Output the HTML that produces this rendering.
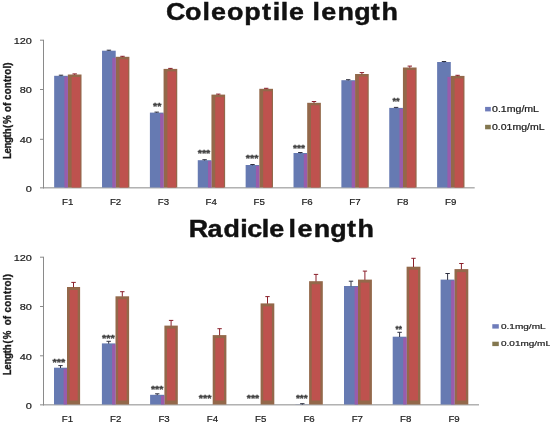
<!DOCTYPE html>
<html><head><meta charset="utf-8"><title>Coleoptile and radicle length</title>
<style>html,body{margin:0;padding:0;background:#fff}svg{display:block;font-family:"Liberation Sans", sans-serif;filter:blur(0.45px)}</style></head>
<body><svg width="550" height="423" viewBox="0 0 550 423">
<rect width="550" height="423" fill="#fff"/>
<line x1="43.5" y1="39.8" x2="43.5" y2="188.5" stroke="#8a8a8a" stroke-width="1"/>
<line x1="40" y1="187.85" x2="474.7" y2="187.85" stroke="#8a8a8a" stroke-width="1"/>
<text x="25.8" y="191.9" font-size="9.7" textLength="6.1" lengthAdjust="spacingAndGlyphs" fill="#1a1a1a" stroke="#1a1a1a" stroke-width="0.2">0</text>
<line x1="40" y1="139.3" x2="43.5" y2="139.3" stroke="#8a8a8a" stroke-width="1"/>
<text x="19.7" y="142.7" font-size="9.7" textLength="12.2" lengthAdjust="spacingAndGlyphs" fill="#1a1a1a" stroke="#1a1a1a" stroke-width="0.2">40</text>
<line x1="40" y1="89.5" x2="43.5" y2="89.5" stroke="#8a8a8a" stroke-width="1"/>
<text x="19.7" y="93.4" font-size="9.7" textLength="12.2" lengthAdjust="spacingAndGlyphs" fill="#1a1a1a" stroke="#1a1a1a" stroke-width="0.2">80</text>
<line x1="40" y1="40.2" x2="43.5" y2="40.2" stroke="#8a8a8a" stroke-width="1"/>
<text x="13.7" y="44.1" font-size="9.7" textLength="18.2" lengthAdjust="spacingAndGlyphs" fill="#1a1a1a" stroke="#1a1a1a" stroke-width="0.2">120</text>
<rect x="54.16" y="75.8" width="13.68" height="111.7" fill="#667ab2"/>
<rect x="67.83" y="74.5" width="13.68" height="113.0" fill="#93684a"/>
<rect x="71.63" y="77.0" width="8.68" height="110.5" fill="#be524e"/>
<rect x="64.43" y="76.8" width="3.4" height="110.7" fill="#9a5cab"/>
<path d="M61.0 75.2V76.1M58.8 75.2H63.2" stroke="#2e3040" stroke-width="1" fill="none"/>
<path d="M74.7 73.9V74.8M72.5 73.9H76.9" stroke="#8a1f2a" stroke-width="1" fill="none"/>
<text x="62.0" y="205.1" font-size="9.5" textLength="11.3" lengthAdjust="spacingAndGlyphs" fill="#1a1a1a" stroke="#1a1a1a" stroke-width="0.2">F1</text>
<rect x="102.03" y="50.7" width="13.68" height="136.8" fill="#667ab2"/>
<rect x="115.70" y="56.8" width="13.68" height="130.7" fill="#93684a"/>
<rect x="119.50" y="59.3" width="8.68" height="128.2" fill="#be524e"/>
<rect x="112.30" y="57.8" width="3.4" height="129.7" fill="#9a5cab"/>
<path d="M108.9 50.2V51.0M106.7 50.2H111.1" stroke="#2e3040" stroke-width="1" fill="none"/>
<path d="M122.5 56.3V57.1M120.3 56.3H124.7" stroke="#8a1f2a" stroke-width="1" fill="none"/>
<text x="109.9" y="205.1" font-size="9.5" textLength="11.3" lengthAdjust="spacingAndGlyphs" fill="#1a1a1a" stroke="#1a1a1a" stroke-width="0.2">F2</text>
<rect x="149.90" y="112.6" width="13.68" height="74.9" fill="#667ab2"/>
<rect x="163.57" y="68.9" width="13.68" height="118.6" fill="#93684a"/>
<rect x="167.38" y="71.4" width="8.68" height="116.1" fill="#be524e"/>
<rect x="160.17" y="113.6" width="3.4" height="73.9" fill="#9a5cab"/>
<path d="M156.7 112.1V112.9M154.5 112.1H158.9" stroke="#2e3040" stroke-width="1" fill="none"/>
<path d="M170.4 68.4V69.2M168.2 68.4H172.6" stroke="#8a1f2a" stroke-width="1" fill="none"/>
<text x="157.8" y="205.1" font-size="9.5" textLength="11.3" lengthAdjust="spacingAndGlyphs" fill="#1a1a1a" stroke="#1a1a1a" stroke-width="0.2">F3</text>
<rect x="197.77" y="160.2" width="13.68" height="27.3" fill="#667ab2"/>
<rect x="211.44" y="94.6" width="13.68" height="92.9" fill="#93684a"/>
<rect x="215.24" y="97.1" width="8.68" height="90.4" fill="#be524e"/>
<rect x="208.04" y="161.2" width="3.4" height="26.3" fill="#9a5cab"/>
<path d="M204.6 159.7V160.5M202.4 159.7H206.8" stroke="#2e3040" stroke-width="1" fill="none"/>
<path d="M218.3 94.1V94.9M216.1 94.1H220.5" stroke="#8a1f2a" stroke-width="1" fill="none"/>
<text x="205.6" y="205.1" font-size="9.5" textLength="11.3" lengthAdjust="spacingAndGlyphs" fill="#1a1a1a" stroke="#1a1a1a" stroke-width="0.2">F4</text>
<rect x="245.64" y="165.0" width="13.68" height="22.5" fill="#667ab2"/>
<rect x="259.31" y="88.8" width="13.68" height="98.7" fill="#93684a"/>
<rect x="263.12" y="91.3" width="8.68" height="96.2" fill="#be524e"/>
<rect x="255.91" y="166.0" width="3.4" height="21.5" fill="#9a5cab"/>
<path d="M252.5 164.5V165.3M250.3 164.5H254.7" stroke="#2e3040" stroke-width="1" fill="none"/>
<path d="M266.2 88.3V89.1M264.0 88.3H268.4" stroke="#8a1f2a" stroke-width="1" fill="none"/>
<text x="253.5" y="205.1" font-size="9.5" textLength="11.3" lengthAdjust="spacingAndGlyphs" fill="#1a1a1a" stroke="#1a1a1a" stroke-width="0.2">F5</text>
<rect x="293.51" y="153.0" width="13.68" height="34.5" fill="#667ab2"/>
<rect x="307.19" y="102.8" width="13.68" height="84.7" fill="#93684a"/>
<rect x="310.99" y="105.3" width="8.68" height="82.2" fill="#be524e"/>
<rect x="303.79" y="154.0" width="3.4" height="33.5" fill="#9a5cab"/>
<path d="M300.3 152.5V153.3M298.1 152.5H302.5" stroke="#2e3040" stroke-width="1" fill="none"/>
<path d="M314.0 101.5V103.1M311.8 101.5H316.2" stroke="#8a1f2a" stroke-width="1" fill="none"/>
<text x="301.4" y="205.1" font-size="9.5" textLength="11.3" lengthAdjust="spacingAndGlyphs" fill="#1a1a1a" stroke="#1a1a1a" stroke-width="0.2">F6</text>
<rect x="341.38" y="80.2" width="13.68" height="107.3" fill="#667ab2"/>
<rect x="355.06" y="74.0" width="13.68" height="113.5" fill="#93684a"/>
<rect x="358.86" y="76.5" width="8.68" height="111.0" fill="#be524e"/>
<rect x="351.66" y="81.2" width="3.4" height="106.3" fill="#9a5cab"/>
<path d="M348.2 79.7V80.5M346.0 79.7H350.4" stroke="#2e3040" stroke-width="1" fill="none"/>
<path d="M361.9 72.6V74.3M359.7 72.6H364.1" stroke="#8a1f2a" stroke-width="1" fill="none"/>
<text x="349.3" y="205.1" font-size="9.5" textLength="11.3" lengthAdjust="spacingAndGlyphs" fill="#1a1a1a" stroke="#1a1a1a" stroke-width="0.2">F7</text>
<rect x="389.25" y="107.9" width="13.68" height="79.6" fill="#667ab2"/>
<rect x="402.93" y="67.5" width="13.68" height="120.0" fill="#93684a"/>
<rect x="406.73" y="70.0" width="8.68" height="117.5" fill="#be524e"/>
<rect x="399.53" y="108.9" width="3.4" height="78.6" fill="#9a5cab"/>
<path d="M396.1 107.4V108.2M393.9 107.4H398.3" stroke="#2e3040" stroke-width="1" fill="none"/>
<path d="M409.8 66.1V67.8M407.6 66.1H412.0" stroke="#8a1f2a" stroke-width="1" fill="none"/>
<text x="397.1" y="205.1" font-size="9.5" textLength="11.3" lengthAdjust="spacingAndGlyphs" fill="#1a1a1a" stroke="#1a1a1a" stroke-width="0.2">F8</text>
<rect x="437.12" y="62.0" width="13.68" height="125.5" fill="#667ab2"/>
<rect x="450.80" y="75.9" width="13.68" height="111.6" fill="#93684a"/>
<rect x="454.60" y="78.4" width="8.68" height="109.1" fill="#be524e"/>
<rect x="447.40" y="76.9" width="3.4" height="110.6" fill="#9a5cab"/>
<path d="M444.0 61.5V62.3M441.8 61.5H446.2" stroke="#2e3040" stroke-width="1" fill="none"/>
<path d="M457.6 75.3V76.2M455.4 75.3H459.8" stroke="#8a1f2a" stroke-width="1" fill="none"/>
<text x="445.0" y="205.1" font-size="9.5" textLength="11.3" lengthAdjust="spacingAndGlyphs" fill="#1a1a1a" stroke="#1a1a1a" stroke-width="0.2">F9</text>
<text x="153.0" y="109.0" font-size="8.2" font-weight="bold" textLength="8.3" lengthAdjust="spacingAndGlyphs" fill="#3c3c3c" stroke="#3c3c3c" stroke-width="0.3">**</text>
<text x="197.7" y="155.7" font-size="8.2" font-weight="bold" textLength="12.6" lengthAdjust="spacingAndGlyphs" fill="#3c3c3c" stroke="#3c3c3c" stroke-width="0.3">***</text>
<text x="245.7" y="161.1" font-size="8.2" font-weight="bold" textLength="12.7" lengthAdjust="spacingAndGlyphs" fill="#3c3c3c" stroke="#3c3c3c" stroke-width="0.3">***</text>
<text x="293.0" y="150.9" font-size="8.2" font-weight="bold" textLength="12.0" lengthAdjust="spacingAndGlyphs" fill="#3c3c3c" stroke="#3c3c3c" stroke-width="0.3">***</text>
<text x="392.5" y="103.9" font-size="8.2" font-weight="bold" textLength="7.2" lengthAdjust="spacingAndGlyphs" fill="#3c3c3c" stroke="#3c3c3c" stroke-width="0.3">**</text>
<text transform="translate(0 20) scale(1.12 1)" x="148.22 165.17 180.87 188.36 202.80 218.00 234.00 243.60 250.60 258.13 273.48 278.95 286.93 301.38 316.24 331.14 340.58" y="0" font-size="24" font-weight="bold" fill="#111" stroke="#111" stroke-width="0.45">Coleoptile length</text>
<text transform="translate(11.3 158.4) rotate(-90) scale(0.92 1)" x="-0.65 5.36 10.83 16.84 22.85 26.12 32.17 33.07 37.33 49.09 50.34 56.93 61.59 63.59 69.68 76.37 83.06 86.71 90.97 97.65 100.70" y="0" font-size="10.6" font-weight="bold" fill="#1a1a1a" stroke="#1a1a1a" stroke-width="0.35">Length (% of control)</text>
<rect x="485.1" y="106.9" width="5.7" height="4.5" fill="#6e7cba"/>
<text x="492.0" y="111.8" font-size="8.3" textLength="47.0" lengthAdjust="spacingAndGlyphs" fill="#1a1a1a" stroke="#1a1a1a" stroke-width="0.2">0.1mg/mL</text>
<rect x="485.1" y="124.8" width="5.7" height="4.5" fill="#83774f"/>
<text x="492.0" y="129.6" font-size="8.3" textLength="52.6" lengthAdjust="spacingAndGlyphs" fill="#1a1a1a" stroke="#1a1a1a" stroke-width="0.2">0.01mg/mL</text>
<line x1="43.5" y1="256.8" x2="43.5" y2="405.5" stroke="#8a8a8a" stroke-width="1"/>
<line x1="40" y1="404.85" x2="479.0" y2="404.85" stroke="#8a8a8a" stroke-width="1"/>
<text x="25.8" y="408.9" font-size="9.7" textLength="6.1" lengthAdjust="spacingAndGlyphs" fill="#1a1a1a" stroke="#1a1a1a" stroke-width="0.2">0</text>
<line x1="40" y1="355.8" x2="43.5" y2="355.8" stroke="#8a8a8a" stroke-width="1"/>
<text x="19.7" y="359.6" font-size="9.7" textLength="12.2" lengthAdjust="spacingAndGlyphs" fill="#1a1a1a" stroke="#1a1a1a" stroke-width="0.2">40</text>
<line x1="40" y1="306.5" x2="43.5" y2="306.5" stroke="#8a8a8a" stroke-width="1"/>
<text x="19.7" y="310.4" font-size="9.7" textLength="12.2" lengthAdjust="spacingAndGlyphs" fill="#1a1a1a" stroke="#1a1a1a" stroke-width="0.2">80</text>
<line x1="40" y1="257.2" x2="43.5" y2="257.2" stroke="#8a8a8a" stroke-width="1"/>
<text x="13.7" y="261.1" font-size="9.7" textLength="18.2" lengthAdjust="spacingAndGlyphs" fill="#1a1a1a" stroke="#1a1a1a" stroke-width="0.2">120</text>
<rect x="54.00" y="367.7" width="13.00" height="36.8" fill="#667ab2"/>
<rect x="67.00" y="287.0" width="13.10" height="117.5" fill="#93684a"/>
<rect x="69.60" y="290.0" width="8.10" height="110.5" fill="#be524e"/>
<rect x="63.60" y="368.7" width="3.4" height="35.8" fill="#9a5cab"/>
<path d="M60.5 365.6V368.0M58.3 365.6H62.7" stroke="#2e3040" stroke-width="1" fill="none"/>
<path d="M73.5 282.4V287.3M71.3 282.4H75.8" stroke="#8a1f2a" stroke-width="1" fill="none"/>
<text x="61.8" y="422.1" font-size="9.5" textLength="11.3" lengthAdjust="spacingAndGlyphs" fill="#1a1a1a" stroke="#1a1a1a" stroke-width="0.2">F1</text>
<rect x="101.90" y="343.4" width="13.60" height="61.1" fill="#667ab2"/>
<rect x="115.50" y="296.3" width="13.60" height="108.2" fill="#93684a"/>
<rect x="118.10" y="299.3" width="8.60" height="101.2" fill="#be524e"/>
<rect x="112.10" y="344.4" width="3.4" height="60.1" fill="#9a5cab"/>
<path d="M108.7 341.3V343.7M106.5 341.3H110.9" stroke="#2e3040" stroke-width="1" fill="none"/>
<path d="M122.3 291.7V296.6M120.1 291.7H124.5" stroke="#8a1f2a" stroke-width="1" fill="none"/>
<text x="110.1" y="422.1" font-size="9.5" textLength="11.3" lengthAdjust="spacingAndGlyphs" fill="#1a1a1a" stroke="#1a1a1a" stroke-width="0.2">F2</text>
<rect x="150.10" y="394.8" width="14.30" height="9.7" fill="#667ab2"/>
<rect x="164.40" y="325.6" width="13.40" height="78.9" fill="#93684a"/>
<rect x="167.00" y="328.6" width="8.40" height="71.9" fill="#be524e"/>
<rect x="161.00" y="395.8" width="3.4" height="8.7" fill="#9a5cab"/>
<path d="M157.2 393.8V395.1M155.1 393.8H159.4" stroke="#2e3040" stroke-width="1" fill="none"/>
<path d="M171.1 320.4V325.9M168.9 320.4H173.3" stroke="#8a1f2a" stroke-width="1" fill="none"/>
<text x="158.4" y="422.1" font-size="9.5" textLength="11.3" lengthAdjust="spacingAndGlyphs" fill="#1a1a1a" stroke="#1a1a1a" stroke-width="0.2">F3</text>
<rect x="212.70" y="335.1" width="13.70" height="69.4" fill="#93684a"/>
<rect x="215.30" y="338.1" width="8.70" height="62.4" fill="#be524e"/>
<path d="M219.6 328.7V335.4M217.4 328.7H221.8" stroke="#8a1f2a" stroke-width="1" fill="none"/>
<text x="206.8" y="422.1" font-size="9.5" textLength="11.3" lengthAdjust="spacingAndGlyphs" fill="#1a1a1a" stroke="#1a1a1a" stroke-width="0.2">F4</text>
<rect x="260.60" y="303.4" width="13.70" height="101.1" fill="#93684a"/>
<rect x="263.20" y="306.4" width="8.70" height="94.1" fill="#be524e"/>
<path d="M267.5 296.6V303.7M265.3 296.6H269.7" stroke="#8a1f2a" stroke-width="1" fill="none"/>
<text x="255.1" y="422.1" font-size="9.5" textLength="11.3" lengthAdjust="spacingAndGlyphs" fill="#1a1a1a" stroke="#1a1a1a" stroke-width="0.2">F5</text>
<rect x="295.50" y="404.3" width="13.60" height="0.2" fill="#667ab2"/>
<rect x="309.10" y="281.2" width="13.70" height="123.3" fill="#93684a"/>
<rect x="311.70" y="284.2" width="8.70" height="116.3" fill="#be524e"/>
<path d="M302.3 403.7V404.6M300.1 403.7H304.5" stroke="#2e3040" stroke-width="1" fill="none"/>
<path d="M316.0 274.4V281.5M313.8 274.4H318.2" stroke="#8a1f2a" stroke-width="1" fill="none"/>
<text x="303.4" y="422.1" font-size="9.5" textLength="11.3" lengthAdjust="spacingAndGlyphs" fill="#1a1a1a" stroke="#1a1a1a" stroke-width="0.2">F6</text>
<rect x="344.00" y="286.0" width="14.00" height="118.5" fill="#667ab2"/>
<rect x="358.00" y="279.6" width="13.90" height="124.9" fill="#93684a"/>
<rect x="360.60" y="282.6" width="8.90" height="117.9" fill="#be524e"/>
<rect x="354.60" y="287.0" width="3.4" height="117.5" fill="#9a5cab"/>
<path d="M351.0 281.2V286.3M348.8 281.2H353.2" stroke="#2e3040" stroke-width="1" fill="none"/>
<path d="M364.9 271.1V279.9M362.8 271.1H367.1" stroke="#8a1f2a" stroke-width="1" fill="none"/>
<text x="351.7" y="422.1" font-size="9.5" textLength="11.3" lengthAdjust="spacingAndGlyphs" fill="#1a1a1a" stroke="#1a1a1a" stroke-width="0.2">F7</text>
<rect x="392.70" y="336.7" width="13.90" height="67.8" fill="#667ab2"/>
<rect x="406.60" y="266.7" width="13.80" height="137.8" fill="#93684a"/>
<rect x="409.20" y="269.7" width="8.80" height="130.8" fill="#be524e"/>
<rect x="403.20" y="337.7" width="3.4" height="66.8" fill="#9a5cab"/>
<path d="M399.6 332.3V337.0M397.4 332.3H401.8" stroke="#2e3040" stroke-width="1" fill="none"/>
<path d="M413.5 258.3V267.0M411.3 258.3H415.7" stroke="#8a1f2a" stroke-width="1" fill="none"/>
<text x="400.1" y="422.1" font-size="9.5" textLength="11.3" lengthAdjust="spacingAndGlyphs" fill="#1a1a1a" stroke="#1a1a1a" stroke-width="0.2">F8</text>
<rect x="440.60" y="279.6" width="13.90" height="124.9" fill="#667ab2"/>
<rect x="454.50" y="269.1" width="13.80" height="135.4" fill="#93684a"/>
<rect x="457.10" y="272.1" width="8.80" height="128.4" fill="#be524e"/>
<rect x="451.10" y="280.6" width="3.4" height="123.9" fill="#9a5cab"/>
<path d="M447.6 273.5V279.9M445.4 273.5H449.8" stroke="#2e3040" stroke-width="1" fill="none"/>
<path d="M461.4 263.5V269.4M459.2 263.5H463.6" stroke="#8a1f2a" stroke-width="1" fill="none"/>
<text x="448.4" y="422.1" font-size="9.5" textLength="11.3" lengthAdjust="spacingAndGlyphs" fill="#1a1a1a" stroke="#1a1a1a" stroke-width="0.2">F9</text>
<text x="52.5" y="365.1" font-size="8.2" font-weight="bold" textLength="12.7" lengthAdjust="spacingAndGlyphs" fill="#3c3c3c" stroke="#3c3c3c" stroke-width="0.3">***</text>
<text x="102.1" y="341.1" font-size="8.2" font-weight="bold" textLength="12.7" lengthAdjust="spacingAndGlyphs" fill="#3c3c3c" stroke="#3c3c3c" stroke-width="0.3">***</text>
<text x="150.9" y="391.9" font-size="8.2" font-weight="bold" textLength="12.4" lengthAdjust="spacingAndGlyphs" fill="#3c3c3c" stroke="#3c3c3c" stroke-width="0.3">***</text>
<text x="198.8" y="401.1" font-size="8.2" font-weight="bold" textLength="12.6" lengthAdjust="spacingAndGlyphs" fill="#3c3c3c" stroke="#3c3c3c" stroke-width="0.3">***</text>
<text x="246.8" y="401.1" font-size="8.2" font-weight="bold" textLength="12.4" lengthAdjust="spacingAndGlyphs" fill="#3c3c3c" stroke="#3c3c3c" stroke-width="0.3">***</text>
<text x="295.9" y="401.4" font-size="8.2" font-weight="bold" textLength="11.7" lengthAdjust="spacingAndGlyphs" fill="#3c3c3c" stroke="#3c3c3c" stroke-width="0.3">***</text>
<text x="395.6" y="332.0" font-size="8.2" font-weight="bold" textLength="6.4" lengthAdjust="spacingAndGlyphs" fill="#3c3c3c" stroke="#3c3c3c" stroke-width="0.3">**</text>
<text transform="translate(0 236.8) scale(1.12 1)" x="168.64 185.22 199.49 214.53 220.66 233.73 240.41 255.76 257.66 265.59 280.04 294.94 309.84 319.19" y="0" font-size="24" font-weight="bold" fill="#111" stroke="#111" stroke-width="0.45">Radicle length</text>
<text transform="translate(10.5 374.7) rotate(-90) scale(0.96 1)" x="-0.64 5.24 10.59 16.47 22.35 25.55 31.52 32.45 37.02 49.76 51.48 57.66 62.26 64.68 70.72 77.36 84.00 87.61 91.84 98.48 101.50" y="0" font-size="10.1" font-weight="bold" fill="#1a1a1a" stroke="#1a1a1a" stroke-width="0.35">Length (% of control)</text>
<rect x="492.3" y="324.2" width="6.5" height="4.4" fill="#6e7cba"/>
<text x="501.0" y="328.9" font-size="8.0" textLength="44.6" lengthAdjust="spacingAndGlyphs" fill="#1a1a1a" stroke="#1a1a1a" stroke-width="0.2">0.1mg/mL</text>
<rect x="492.3" y="341.7" width="6.5" height="4.4" fill="#83774f"/>
<text x="501.0" y="346.4" font-size="8.0" textLength="50.0" lengthAdjust="spacingAndGlyphs" fill="#1a1a1a" stroke="#1a1a1a" stroke-width="0.2">0.01mg/mL</text>
</svg></body></html>
